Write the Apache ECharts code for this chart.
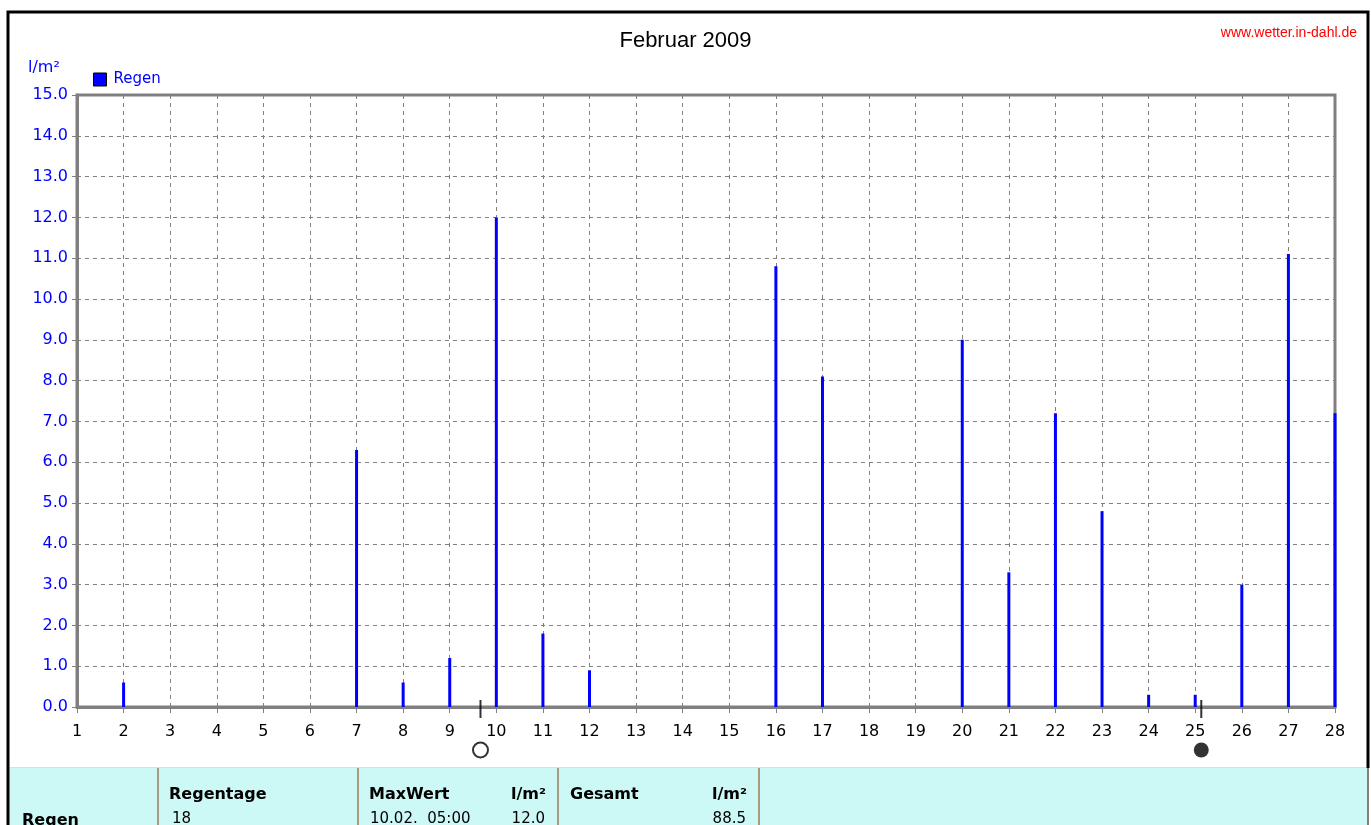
<!DOCTYPE html>
<html>
<head>
<meta charset="utf-8">
<script src="https://cdn.jsdelivr.net/npm/echarts@6/dist/echarts.min.js"></script>
<style>
html,body{margin:0;padding:0;background:#fff;}
#chart{width:1371px;height:825px;}
</style>
</head>
<body>
<div id="chart"></div>
<script>
// ---- data ----
var days = [2, 7, 8, 9, 10, 11, 12, 16, 17, 20, 21, 22, 23, 24, 25, 26, 27, 28];
var rain = [0.6, 6.3, 0.6, 1.2, 12.0, 1.8, 0.9, 10.8, 8.1, 9.0, 3.3, 7.2, 4.8, 0.3, 0.3, 3.0, 11.1, 7.2];
var fullMoonDays = [9.66];
var newMoonDays = [25.13];
var yMin = 0, yMax = 15, yStep = 1;
var xMin = 1, xMax = 28, xStep = 1;
var tableHeaders = ['Regentage', 'MaxWert', 'Gesamt'];
var tableValues = ['18', '10.02.  05:00', '12.0', '88.5'];

var rainData = days.map(function (d, i) { return [d, rain[i]]; });
var fullData = fullMoonDays.map(function (d) { return [d, 0]; });
var newData = newMoonDays.map(function (d) { return [d, 0]; });
var moonTicks = fullMoonDays.concat(newMoonDays).map(function (d) { return [d, 0]; });

var chart = echarts.init(document.getElementById('chart'));
var AX = 'DejaVu Sans';
var tableFont = 'bold 16px "DejaVu Sans"';
var cellFont = '15px "DejaVu Sans"';

function txt(x, y, s, font, color, align) {
  return { type: 'text', x: x, y: y, z: 100,
    style: { text: s, font: font, fill: color || '#000', textAlign: align || 'left', textVerticalAlign: 'middle' } };
}

var graphics = [
  // outer frame
  { type: 'polyline', z: 50, shape: { points: [[8, 825], [8, 12], [1368, 12], [1368, 768]] },
    style: { stroke: '#000', lineWidth: 3, fill: null } },
  // table background
  { type: 'rect', z: 40, shape: { x: 9, y: 767, width: 1359, height: 60 },
    style: { fill: '#ccf8f5', stroke: null } },
  { type: 'line', z: 41, shape: { x1: 9, y1: 767.5, x2: 1368, y2: 767.5 }, style: { stroke: '#e4ddd0', lineWidth: 1 } },
  { type: 'line', z: 41, shape: { x1: 1368, y1: 767, x2: 1368, y2: 825 }, style: { stroke: '#8a8070', lineWidth: 2 } },
  { type: 'line', z: 41, shape: { x1: 158, y1: 768, x2: 158, y2: 825 }, style: { stroke: '#a89c80', lineWidth: 2 } },
  { type: 'line', z: 41, shape: { x1: 358, y1: 768, x2: 358, y2: 825 }, style: { stroke: '#a89c80', lineWidth: 2 } },
  { type: 'line', z: 41, shape: { x1: 558, y1: 768, x2: 558, y2: 825 }, style: { stroke: '#a89c80', lineWidth: 2 } },
  { type: 'line', z: 41, shape: { x1: 759, y1: 768, x2: 759, y2: 825 }, style: { stroke: '#a89c80', lineWidth: 2 } },
  txt(22, 821, 'Regen', tableFont),
  txt(169, 795, tableHeaders[0], tableFont),
  txt(172, 819, tableValues[0], cellFont),
  txt(369, 795, tableHeaders[1], tableFont),
  txt(546, 795, 'l/m²', tableFont, '#000', 'right'),
  txt(370, 819, tableValues[1], cellFont),
  txt(545, 819, tableValues[2], cellFont, '#000', 'right'),
  txt(570, 795, tableHeaders[2], tableFont),
  txt(747, 795, 'l/m²', tableFont, '#000', 'right'),
  txt(746, 819, tableValues[3], cellFont, '#000', 'right'),
  // unit label
  txt(28, 68, 'l/m²', '16px "DejaVu Sans"', '#0000ff'),
  // watermark
  txt(1357, 33, 'www.wetter.in-dahl.de', '14px "Liberation Sans"', '#ff0000', 'right')
];

chart.setOption({
  animation: false,
  backgroundColor: '#fff',
  title: {
    text: 'Februar 2009', left: 'center', top: 25,
    textStyle: { fontFamily: 'Liberation Sans', fontSize: 22, fontWeight: 'normal', color: '#000' }
  },
  legend: {
    left: 88, top: 67, itemWidth: 13, itemHeight: 13, itemGap: 5,
    data: [{ name: 'Regen', icon: 'rect', itemStyle: { color: '#0000ff', borderColor: '#000', borderWidth: 1 } }],
    textStyle: { color: '#0000ff', fontFamily: AX, fontSize: 15, padding: [0, 0, 0, 2] }
  },
  grid: { left: 77, top: 95, right: 36, bottom: 118, show: true, borderColor: '#808080', borderWidth: 3, backgroundColor: 'transparent' },
  xAxis: {
    type: 'value', min: xMin, max: xMax, interval: xStep,
    axisLine: { show: true, lineStyle: { color: '#808080', width: 3 } },
    axisTick: { show: true, length: 6, lineStyle: { color: '#808080', width: 1 } },
    axisLabel: { color: '#000', fontFamily: AX, fontSize: 16, margin: 17 },
    splitLine: { show: true, lineStyle: { color: '#808080', type: [4, 4], width: 1 } }
  },
  yAxis: {
    type: 'value', min: yMin, max: yMax, interval: yStep,
    axisLine: { show: true, lineStyle: { color: '#808080', width: 3 } },
    axisTick: { show: true, length: 5, lineStyle: { color: '#808080', width: 1 } },
    axisLabel: { color: '#0000ff', fontFamily: AX, fontSize: 16, margin: 9,
      formatter: function (v) { return v.toFixed(1); } },
    splitLine: { show: true, lineStyle: { color: '#808080', type: [4, 4], width: 1 } }
  },
  series: [
    { name: 'Regen', type: 'bar', data: rainData, barWidth: 3, clip: false,
      itemStyle: { color: '#0000ff' }, z: 5 },
    { name: 'moonTick', type: 'scatter', data: moonTicks, clip: false, symbol: 'rect',
      symbolSize: [2, 18], symbolOffset: [0, 2], itemStyle: { color: '#000' }, z: 6, silent: true },
    { name: 'fullMoon', type: 'scatter', data: fullData, clip: false, symbol: 'circle',
      symbolSize: 15, symbolOffset: [0, 43],
      itemStyle: { color: '#fff', borderColor: '#000', borderWidth: 2 }, z: 6, silent: true },
    { name: 'newMoon', type: 'scatter', data: newData, clip: false, symbol: 'circle',
      symbolSize: 15, symbolOffset: [0, 43],
      itemStyle: { color: '#000' }, z: 6, silent: true }
  ],
  graphic: graphics
});
</script>
</body>
</html>
